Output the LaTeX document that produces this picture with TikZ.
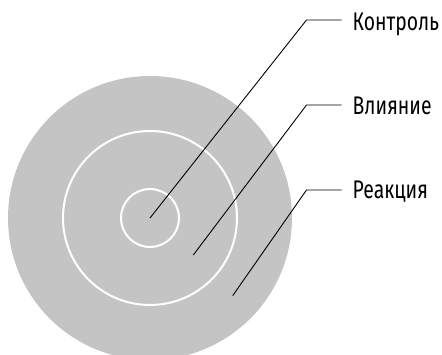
\documentclass[tikz,border=0pt]{standalone}
\usepackage{fontspec}
\setmainfont[FakeStretch=0.76]{Fira Sans}
\definecolor{ringgray}{HTML}{C4C4C4}
\tikzset{
  ring/.style={draw=white, line width=2pt},
  leader/.style={draw=black, line width=0.9pt},
  lbl/.style={anchor=base west, inner sep=0pt, font=\fontsize{25.5}{29}\selectfont}
}
\begin{document}
\begin{tikzpicture}[x=1pt,y=-1pt]
\useasboundingbox (0,0) rectangle (442,355);
\begin{scope}
\clip (0,0) rectangle (442,355);
\fill[ringgray] (150,218) circle[radius=142];
\end{scope}
\draw[ring] (150,218) circle[radius=87];
\draw[ring] (150,218) circle[radius=29];
\coordinate (c) at (150,218);
\coordinate (p2) at (193.3,255);
\coordinate (p3) at (232.7,295.7);
\coordinate (k1) at (306.5,20);
\coordinate (k2) at (306.5,105);
\coordinate (k3) at (306.5,190);
\coordinate (e1) at (341.7,20);
\coordinate (e2) at (341.7,105);
\coordinate (e3) at (341.7,190);
\node[lbl] (t1) at (352.5,31) {Контроль};
\node[lbl] (t2) at (352.5,115) {Влияние};
\node[lbl] (t3) at (352.5,199) {Реакция};
\draw[leader] (c) -- (k1) -- (e1);
\draw[leader] (p2) -- (k2) -- (e2);
\draw[leader] (p3) -- (k3) -- (e3);
\end{tikzpicture}
\end{document}
